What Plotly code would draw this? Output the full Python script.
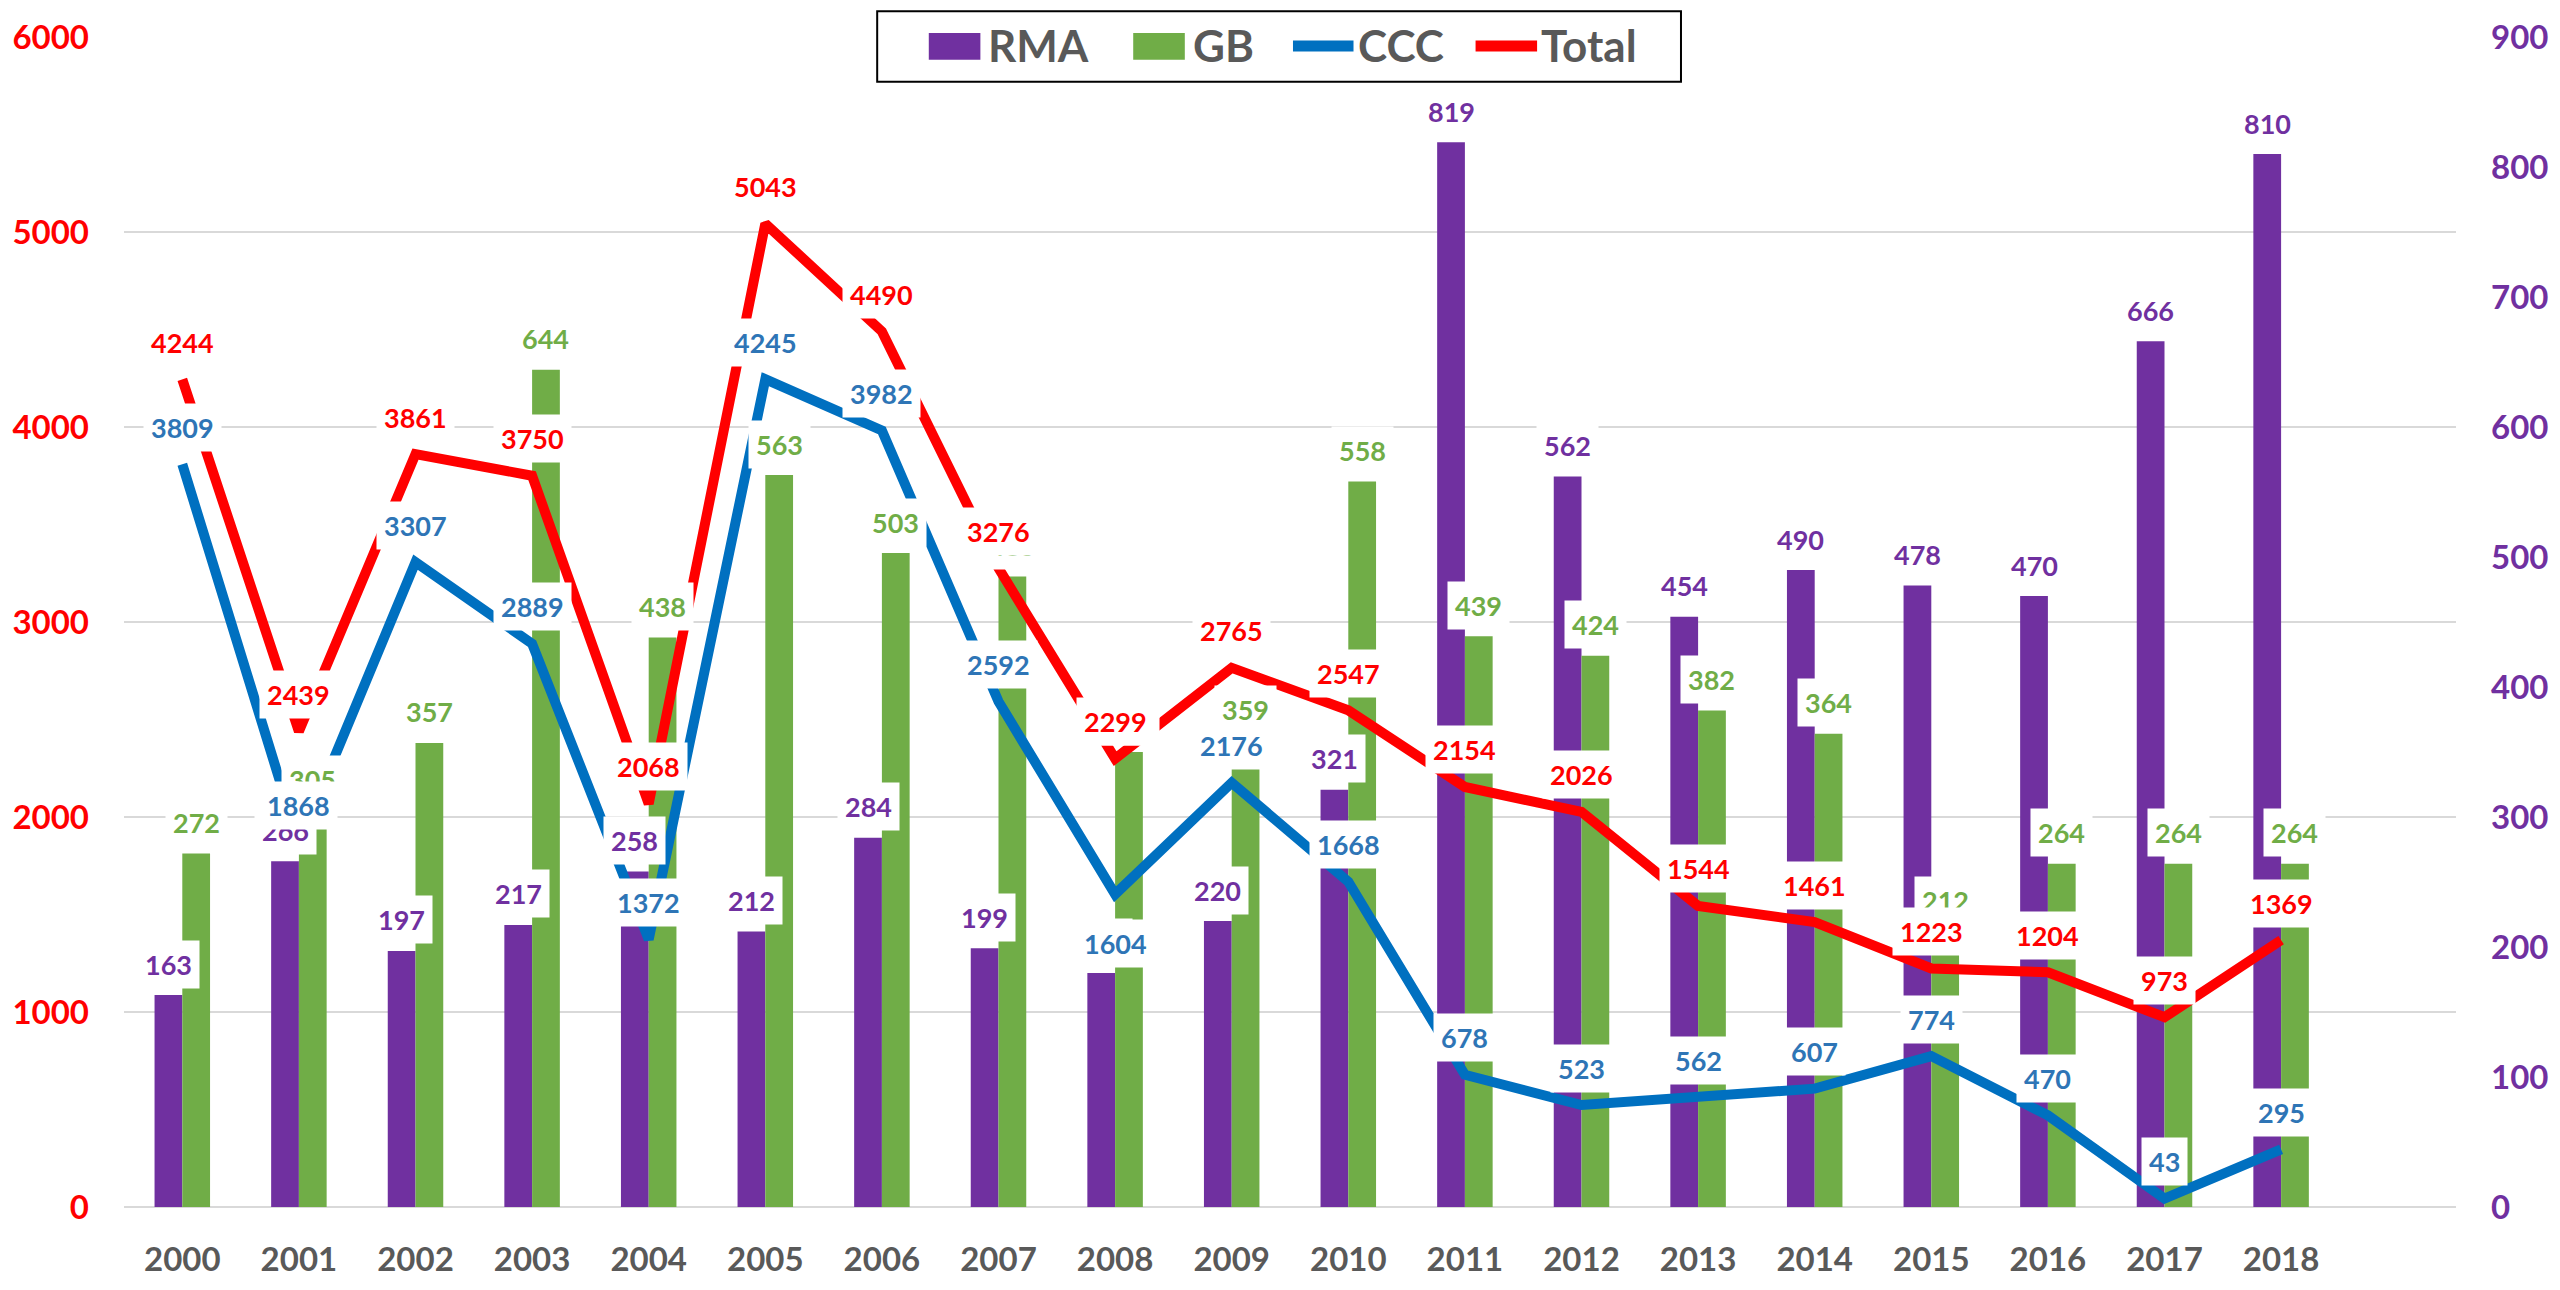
import plotly.graph_objects as go

# ---------------- data ----------------
years = [2000, 2001, 2002, 2003, 2004, 2005, 2006, 2007, 2008, 2009,
         2010, 2011, 2012, 2013, 2014, 2015, 2016, 2017, 2018]
year_labels = [str(y) for y in years]
rma = [163, 266, 197, 217, 258, 212, 284, 199, 180, 220,
       321, 819, 562, 454, 490, 478, 470, 666, 810]
gb = [272, 305, 357, 644, 438, 563, 503, 485, 350, 359,
      558, 439, 424, 382, 364, 212, 264, 264, 264]
ccc = [3809, 1868, 3307, 2889, 1372, 4245, 3982, 2592, 1604, 2176,
       1668, 678, 523, 562, 607, 774, 470, 43, 295]
total = [4244, 2439, 3861, 3750, 2068, 5043, 4490, 3276, 2299, 2765,
         2547, 2154, 2026, 1544, 1461, 1223, 1204, 973, 1369]
left_ticks = [0, 1000, 2000, 3000, 4000, 5000, 6000]
right_ticks = [0, 100, 200, 300, 400, 500, 600, 700, 800, 900]

# ---------------- style ----------------
PURPLE = "#7030A0"
GREEN = "#70AD47"
BLUE = "#0070C0"
BLUE_LBL = "#2E75B6"
RED = "#FF0000"
GRAY = "#595959"
GRID = "#D9D9D9"
FONT = "Lato"

W, H = 2560, 1290
PL, PR, PT, PB = 114, 2464, 37, 1215
BARGAP = 0.524
BAR_OFF = (1 - BARGAP) / 4.0

def px2x(px):
    return (px - PL) / (PR - PL)

def py2y(py):
    return (PB - py) / (PB - PT)

fig = go.Figure()
fig.add_trace(go.Bar(x=years, y=rma, name="RMA", marker=dict(color=PURPLE, line=dict(width=0)),
                     yaxis="y", showlegend=False))
fig.add_trace(go.Bar(x=years, y=gb, name="GB", marker=dict(color=GREEN, line=dict(width=0)),
                     yaxis="y", showlegend=False))
fig.add_trace(go.Scatter(x=years, y=ccc, name="CCC", mode="lines",
                         line=dict(color=BLUE, width=10), yaxis="y2", showlegend=False))
fig.add_trace(go.Scatter(x=years, y=total, name="Total", mode="lines",
                         line=dict(color=RED, width=10), yaxis="y2", showlegend=False))

ann = []
lbl_font = 27

def label(x, y, text, color, yref, yshift):
    ann.append(dict(x=x, y=y, xref="x", yref=yref, text=text, showarrow=False,
                    xanchor="center", yanchor="middle", yshift=yshift,
                    bgcolor="white", borderpad=7,
                    font=dict(family=FONT, size=lbl_font, color=color, weight="bold")))

for yr, v in zip(years, rma):
    label(yr - BAR_OFF, v, str(v), PURPLE, "y", 31)
for yr, v in zip(years, gb):
    label(yr + BAR_OFF, v, str(v), GREEN, "y", 31)
for yr, v in zip(years, ccc):
    label(yr, v, str(v), BLUE_LBL, "y2", -49 if yr == 2008 else 37)
for yr, v in zip(years, total):
    label(yr, v, str(v), RED, "y2", 37)

# ---------------- custom legend ----------------
shapes = []
shapes.append(dict(type="rect", xref="paper", yref="paper",
                   x0=px2x(873), x1=px2x(1683), y0=py2y(82), y1=py2y(11),
                   line=dict(color="black", width=2), fillcolor="white", layer="above"))
legend_items = [
    ("RMA", PURPLE, "bar", 925, 977, 983),
    ("GB", GREEN, "bar", 1131, 1183, 1189),
    ("CCC", BLUE, "line", 1292, 1353, 1356),
    ("Total", RED, "line", 1476, 1538, 1540),
]
for name, color, kind, s0, s1, tx in legend_items:
    if kind == "bar":
        shapes.append(dict(type="rect", xref="paper", yref="paper",
                           x0=px2x(s0), x1=px2x(s1), y0=py2y(60), y1=py2y(33),
                           line=dict(width=0), fillcolor=color, layer="above"))
    else:
        shapes.append(dict(type="line", xref="paper", yref="paper",
                           x0=px2x(s0), x1=px2x(s1), y0=py2y(46), y1=py2y(46),
                           line=dict(color=color, width=11), layer="above"))
    ann.append(dict(x=px2x(tx), y=py2y(45), xref="paper", yref="paper", text=name,
                    showarrow=False, xanchor="left", yanchor="middle",
                    font=dict(family=FONT, size=44, color=GRAY, weight="bold")))

fig.update_layout(
    width=W, height=H,
    margin=dict(l=PL, r=W - PR, t=PT, b=H - PB, pad=0),
    paper_bgcolor="white", plot_bgcolor="white",
    barmode="group", bargap=BARGAP, bargroupgap=0,
    showlegend=False,
    font=dict(family=FONT),
    xaxis=dict(range=[1999.5, 2019.5], tickvals=years, ticktext=year_labels,
               showgrid=False, zeroline=False, showline=False, ticks="",
               ticklabelstandoff=30,
               tickfont=dict(family=FONT, size=33, color=GRAY, weight="bold")),
    yaxis=dict(side="right", range=[0, 900], tickvals=right_ticks,
               showgrid=False, zeroline=False, showline=False, ticks="",
               ticklabelstandoff=34,
               tickfont=dict(family=FONT, size=33, color=PURPLE, weight="bold")),
    yaxis2=dict(side="left", overlaying="y", anchor="x", range=[0, 6000], tickvals=left_ticks,
                showgrid=True, gridcolor=GRID, gridwidth=2,
                zeroline=True, zerolinecolor=GRID, zerolinewidth=2,
                showline=False, ticks="", ticklabelstandoff=34,
                tickfont=dict(family=FONT, size=33, color=RED, weight="bold")),
    annotations=ann,
    shapes=shapes,
)

fig.write_html("out.html",
               config={"displayModeBar": False},
               post_script="document.body.style.margin='0';document.body.style.overflow='hidden';")
